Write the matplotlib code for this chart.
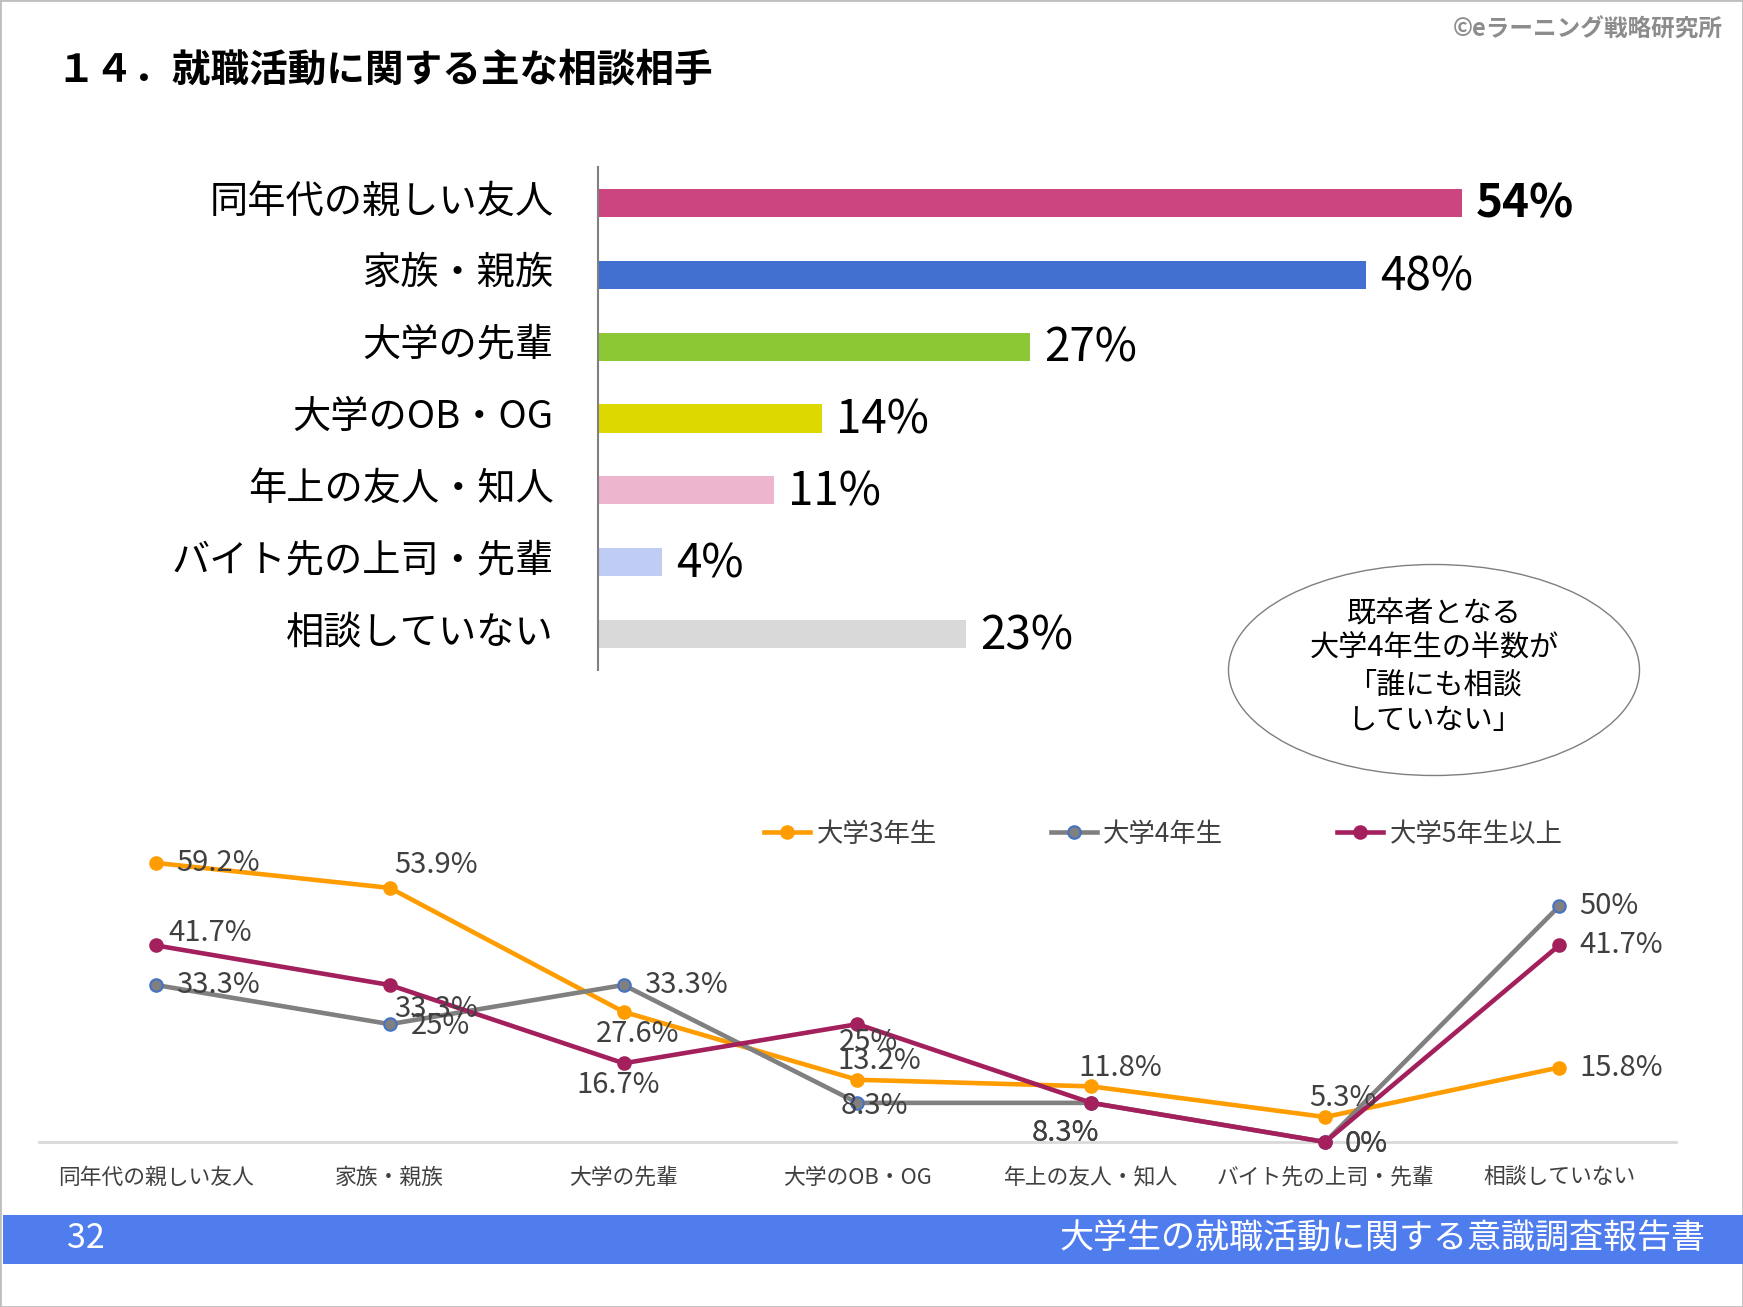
import matplotlib
matplotlib.use("Agg")
import matplotlib.pyplot as plt
from matplotlib.patches import Ellipse, Rectangle
from matplotlib.transforms import ScaledTranslation

plt.rcParams['font.family'] = ['Noto Sans CJK JP', 'DejaVu Sans']

# --- data ---
bar_cats = ["同年代の親しい友人", "家族・親族", "大学の先輩", "大学のOB・OG",
            "年上の友人・知人", "バイト先の上司・先輩", "相談していない"]
bar_vals = [54, 48, 27, 14, 11, 4, 23]
bar_colors = ["#CD4580", "#4170D0", "#8CC834", "#DDD800", "#EDB6CE", "#BFCCF4", "#D9D9D9"]

line_cats = ["同年代の親しい友人", "家族・親族", "大学の先輩", "大学のOB・OG",
             "年上の友人・知人", "バイト先の上司・先輩", "相談していない"]
series_names = ["大学3年生", "大学4年生", "大学5年生以上"]
y3 = [59.2, 53.9, 27.6, 13.2, 11.8, 5.3, 15.8]
y4 = [33.3, 25, 33.3, 8.3, 8.3, 0, 50]
y5 = [41.7, 33.3, 16.7, 25, 8.3, 0, 41.7]
labels3 = ["59.2%", "53.9%", "27.6%", "13.2%", "11.8%", "5.3%", "15.8%"]
labels4 = ["33.3%", "25%", "33.3%", "8.3%", "8.3%", "0%", "50%"]
labels5 = ["41.7%", "33.3%", "16.7%", "25%", "8.3%", "0%", "41.7%"]

# label offsets (pixels) for each point
off3 = [(62, 0), (46, 23), (14, -22), (22, 19), (29, 18), (18, 19), (62, 0)]
off4 = [(62, 0), (51, -2), (62, 0), (17, -3), (-26, -30), (41, -2), (50, 0)]
off5 = [(54, 12), (46, -24), (-6, -22), (11, -18), (-26, -30), (41, -2), (62, 0)]

W, H = 1743, 1307
fig = plt.figure(figsize=(W / 100, H / 100), dpi=100)

# slide border
fig.patches.append(Rectangle((0, 0), 1, 1, transform=fig.transFigure, fill=False,
                             ec="#BFBFBF", lw=2))

# title and copyright
fig.text(56 / W, 1 - 70 / H, "１４．就職活動に関する主な相談相手", fontsize=27.8,
         fontweight="bold", va="center", ha="left")
fig.text(1723 / W, 1 - 30 / H, "©eラーニング戦略研究所", fontsize=17,
         fontweight="bold", color="#8C8C8C", va="center", ha="right")

# --- top bar chart ---
ax1 = fig.add_axes([598 / W, 1 - 670 / H, 1120 / W, 503 / H])
ax1.barh(range(len(bar_vals)), bar_vals, height=0.39, color=bar_colors)
ax1.set_xlim(0, 70)
ax1.set_ylim(len(bar_vals) - 0.5, -0.5)
ax1.set_yticks(range(len(bar_cats)))
ax1.set_yticklabels(bar_cats, fontsize=27.5)
ax1.tick_params(axis="y", length=0, pad=32)
shift_up = ScaledTranslation(0, 0.055, fig.dpi_scale_trans)
for lab in ax1.get_yticklabels():
    lab.set_transform(lab.get_transform() + shift_up)
ax1.set_xticks([])
for s in ["top", "right", "bottom"]:
    ax1.spines[s].set_visible(False)
ax1.spines["left"].set_color("#808080")
ax1.spines["left"].set_linewidth(1.5)
for i, v in enumerate(bar_vals):
    ax1.annotate(f"{v}%", (v, i), xytext=(14, -2), textcoords="offset pixels",
                 va="center", ha="left", fontsize=33,
                 fontweight="bold" if i == 0 else "normal")

# callout ellipse
fig.patches.append(Ellipse((1434 / W, 1 - 670 / H), 411 / W, 211 / H,
                           transform=fig.transFigure, fill=False, ec="#7F7F7F", lw=1))
callout = ["既卒者となる", "大学4年生の半数が", "「誰にも相談", "していない」"]
for line, yy in zip(callout, [614, 649, 686, 721]):
    fig.text(1434 / W, 1 - yy / H, line, fontsize=21, ha="center", va="center")

# --- bottom line chart ---
ax2 = fig.add_axes([39 / W, 1 - 1142 / H, 1637 / W, 330 / H])
x = range(len(line_cats))
series = [(y3, labels3, off3, "#FF9C00", "#FF9C00"),
          (y4, labels4, off4, "#808080", "#4472C4"),
          (y5, labels5, off5, "#A3205C", "#A3205C")]
for (ys, labs, offs, col, mec), name in zip(series, series_names):
    ax2.plot(x, ys, color=col, lw=3.3, marker="o", ms=9, mfc=col, mec=mec,
             mew=1.5, label=name, clip_on=False, zorder=3)
    for xi, yi, lab, off in zip(x, ys, labs, offs):
        ax2.annotate(lab, (xi, yi), xytext=off, textcoords="offset pixels",
                     ha="center", va="center", fontsize=21, color="#404040", zorder=4)
ax2.set_xlim(-0.5, len(line_cats) - 0.5)
ax2.set_ylim(0, 70)
ax2.set_yticks([])
ax2.set_xticks(list(x))
ax2.set_xticklabels(line_cats, fontsize=15.7, color="#404040")
ax2.tick_params(axis="x", length=0, pad=18)
for s in ["top", "right", "left"]:
    ax2.spines[s].set_visible(False)
ax2.spines["bottom"].set_color("#D9D9D9")
ax2.spines["bottom"].set_linewidth(2)
ax2.patch.set_visible(False)

leg = fig.legend(loc="center left", bbox_to_anchor=(764 / W, 1 - 834 / H), ncol=3,
                 frameon=False, fontsize=19, handlelength=1.75, handletextpad=0.25,
                 columnspacing=4.3, borderpad=0, borderaxespad=0)
for t in leg.get_texts():
    t.set_color("#404040")

# footer bar
fig.patches.append(Rectangle((3 / W, 1 - 1264 / H), 1740 / W, 49 / H,
                             transform=fig.transFigure, color="#507DEE", lw=0))
fig.text(67 / W, 1 - 1239 / H, "32", fontsize=24.5, color="white", ha="left", va="center")
fig.text(1706 / W, 1 - 1239 / H, "大学生の就職活動に関する意識調査報告書", fontsize=24.5,
         color="white", ha="right", va="center")

fig.savefig("out.png", dpi=100)
